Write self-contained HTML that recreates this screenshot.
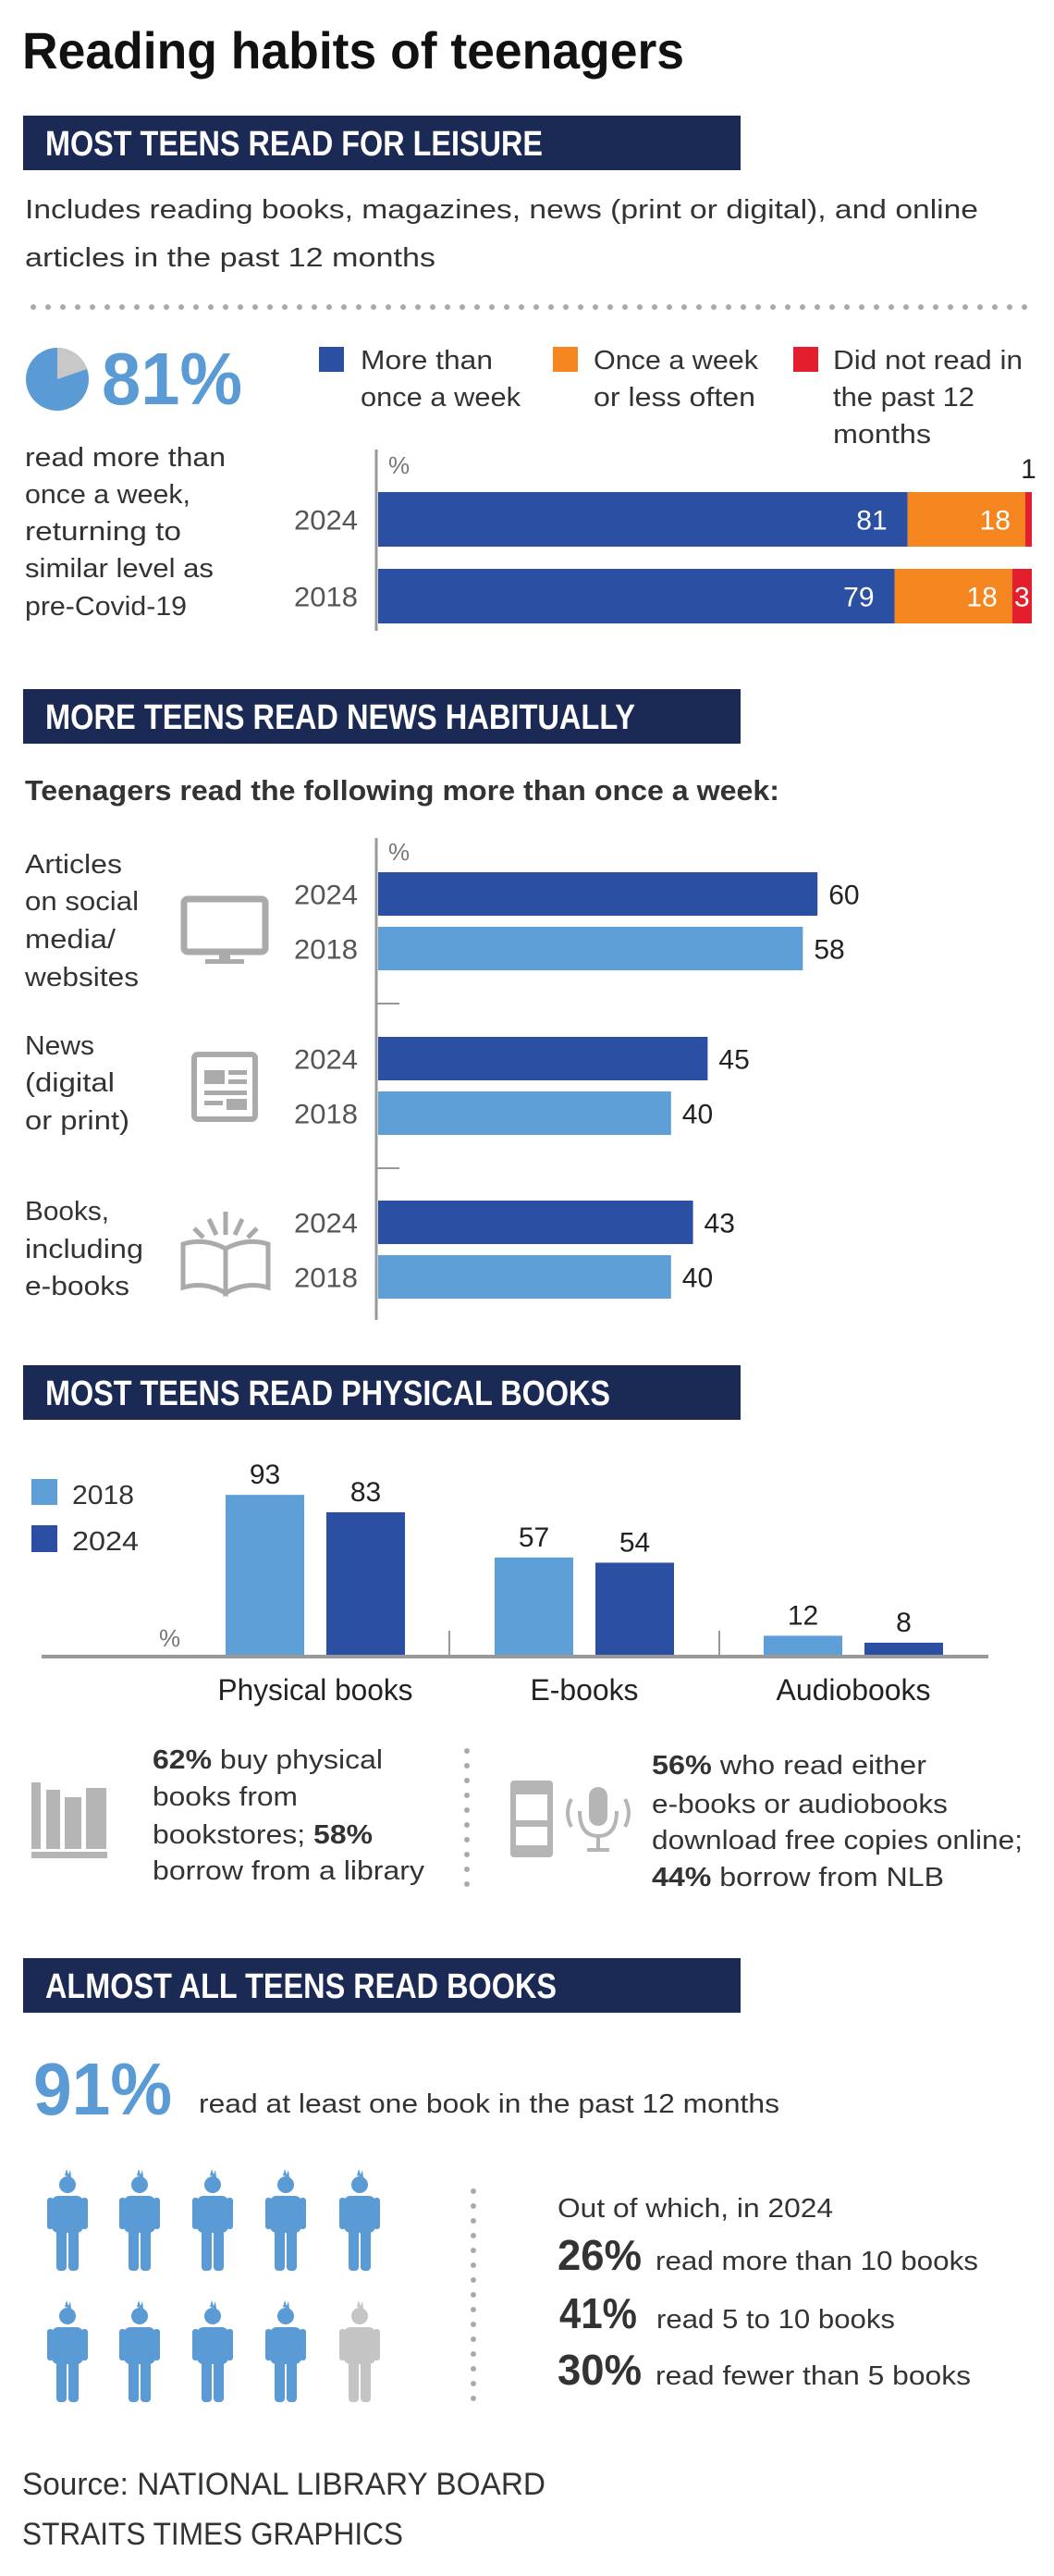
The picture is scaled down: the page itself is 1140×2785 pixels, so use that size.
<!DOCTYPE html>
<html><head><meta charset="utf-8"><style>
html,body{margin:0;padding:0;background:#fff;}
svg{display:block;}
text{font-family:"Liberation Sans Narrow","Liberation Sans",sans-serif;}
.hd{fill:#fff;font-weight:bold;font-size:38px;}
.t{fill:#333;font-size:29px;}
.yr{fill:#555;font-size:30px;}
</style></head><body>
<svg id="page" width="1140" height="2785" viewBox="0 0 1140 2785" xmlns="http://www.w3.org/2000/svg">
<rect width="1140" height="2785" fill="#fff"/>
<text x="24" y="74" font-size="56" font-weight="bold" fill="#111" textLength="716" lengthAdjust="spacingAndGlyphs">Reading habits of teenagers</text>

<!-- Section 1 -->
<rect x="25" y="125" width="776" height="59" fill="#1b2a54"/>
<text class="hd" x="49" y="168" textLength="538" lengthAdjust="spacingAndGlyphs">MOST TEENS READ FOR LEISURE</text>
<text class="t" font-size="31" x="27" y="236" textLength="1031" lengthAdjust="spacingAndGlyphs">Includes reading books, magazines, news (print or digital), and online</text>
<text class="t" font-size="31" x="27" y="288" textLength="444" lengthAdjust="spacingAndGlyphs">articles in the past 12 months</text>
<line x1="36" y1="332" x2="1110" y2="332" stroke="#aaa" stroke-width="6" stroke-linecap="round" stroke-dasharray="0 16"/>
<g>
<circle cx="62" cy="410" r="34" fill="#5b9bd5"/>
<path d="M62 410 L62 376 A34 34 0 0 1 94 399 Z" fill="#c8c8c8"/>
</g>
<text x="110" y="437" font-size="80" font-weight="bold" fill="#5b9bd5" textLength="152" lengthAdjust="spacingAndGlyphs">81%</text>
<g>
<rect x="345" y="375" width="27" height="27" fill="#2b4fa3"/>
<text class="t" x="390" y="399" font-size="30" textLength="143" lengthAdjust="spacingAndGlyphs">More than</text>
<text class="t" x="390" y="439" font-size="30" textLength="173" lengthAdjust="spacingAndGlyphs">once a week</text>
<rect x="598" y="375" width="27" height="27" fill="#f5861f"/>
<text class="t" x="642" y="399" font-size="30" textLength="178" lengthAdjust="spacingAndGlyphs">Once a week</text>
<text class="t" x="642" y="439" font-size="30" textLength="175" lengthAdjust="spacingAndGlyphs">or less often</text>
<rect x="858" y="375" width="27" height="27" fill="#e31e2d"/>
<text class="t" x="901" y="399" font-size="30" textLength="205" lengthAdjust="spacingAndGlyphs">Did not read in</text>
<text class="t" x="901" y="439" font-size="30" textLength="153" lengthAdjust="spacingAndGlyphs">the past 12</text>
<text class="t" x="901" y="479" font-size="30" textLength="106" lengthAdjust="spacingAndGlyphs">months</text>
</g>
<g>
<text class="t" x="27" y="504" font-size="30" textLength="217" lengthAdjust="spacingAndGlyphs">read more than</text>
<text class="t" x="27" y="544" font-size="30" textLength="179" lengthAdjust="spacingAndGlyphs">once a week,</text>
<text class="t" x="27" y="584" font-size="30" textLength="169" lengthAdjust="spacingAndGlyphs">returning to</text>
<text class="t" x="27" y="624" font-size="30" textLength="204" lengthAdjust="spacingAndGlyphs">similar level as</text>
<text class="t" x="27" y="665" font-size="30" textLength="175" lengthAdjust="spacingAndGlyphs">pre-Covid-19</text>
</g>
<g id="chart1"></g>

<!-- Section 2 -->
<rect x="25" y="745" width="776" height="59" fill="#1b2a54"/>
<text class="hd" x="49" y="788" textLength="638" lengthAdjust="spacingAndGlyphs">MORE TEENS READ NEWS HABITUALLY</text>
<text x="27" y="865" font-size="31" font-weight="bold" fill="#333" textLength="816" lengthAdjust="spacingAndGlyphs">Teenagers read the following more than once a week:</text>
<g>
<text class="t" x="27" y="944" font-size="30" textLength="105" lengthAdjust="spacingAndGlyphs">Articles</text>
<text class="t" x="27" y="984" font-size="30" textLength="123" lengthAdjust="spacingAndGlyphs">on social</text>
<text class="t" x="27" y="1025" font-size="30" textLength="98" lengthAdjust="spacingAndGlyphs">media/</text>
<text class="t" x="27" y="1066" font-size="30" textLength="123" lengthAdjust="spacingAndGlyphs">websites</text>
<text class="t" x="27" y="1140" font-size="30" textLength="75" lengthAdjust="spacingAndGlyphs">News</text>
<text class="t" x="27" y="1180" font-size="30" textLength="97" lengthAdjust="spacingAndGlyphs">(digital</text>
<text class="t" x="27" y="1221" font-size="30" textLength="113" lengthAdjust="spacingAndGlyphs">or print)</text>
<text class="t" x="27" y="1319" font-size="30" textLength="91" lengthAdjust="spacingAndGlyphs">Books,</text>
<text class="t" x="27" y="1360" font-size="30" textLength="128" lengthAdjust="spacingAndGlyphs">including</text>
<text class="t" x="27" y="1400" font-size="30" textLength="113" lengthAdjust="spacingAndGlyphs">e-books</text>
</g>
<g fill="none" stroke="#aaa">
<rect x="199" y="972" width="88" height="57" rx="4" stroke-width="7"/>
<rect x="237" y="1030" width="12" height="8" fill="#aaa" stroke="none"/>
<rect x="222" y="1037" width="42" height="5" fill="#aaa" stroke="none"/>
</g>
<g>
<rect x="210" y="1140" width="66" height="70" rx="4" fill="none" stroke="#aaa" stroke-width="6"/>
<rect x="221" y="1157" width="22" height="15" fill="#aaa"/>
<rect x="247" y="1157" width="20" height="5" fill="#aaa"/>
<rect x="247" y="1167" width="20" height="5" fill="#aaa"/>
<rect x="221" y="1179" width="46" height="5" fill="#aaa"/>
<rect x="221" y="1190" width="20" height="5" fill="#aaa"/>
<rect x="245" y="1188" width="22" height="12" fill="#aaa"/>
</g>
<g fill="none" stroke="#aaa" stroke-width="5">
<path d="M198 1345 L198 1392 Q222 1385 244 1398 L244 1350 Q222 1338 198 1345 Z"/>
<path d="M290 1345 L290 1392 Q266 1385 244 1398 L244 1350 Q266 1338 290 1345 Z"/>
<line x1="244" y1="1310" x2="244" y2="1335"/>
<line x1="226" y1="1318" x2="234" y2="1335"/>
<line x1="262" y1="1318" x2="254" y2="1335"/>
<line x1="210" y1="1328" x2="220" y2="1338"/>
<line x1="278" y1="1328" x2="268" y2="1338"/>
</g>
<g id="chart2"></g>

<!-- Section 3 -->
<rect x="25" y="1476" width="776" height="59" fill="#1b2a54"/>
<text class="hd" x="49" y="1519" textLength="611" lengthAdjust="spacingAndGlyphs">MOST TEENS READ PHYSICAL BOOKS</text>
<g>
<rect x="34" y="1599" width="28" height="28" fill="#5f9fd8"/>
<text class="t" x="78" y="1626" font-size="32" textLength="67" lengthAdjust="spacingAndGlyphs">2018</text>
<rect x="34" y="1649" width="28" height="29" fill="#2b4fa3"/>
<text class="t" x="78" y="1676" font-size="32" textLength="72" lengthAdjust="spacingAndGlyphs">2024</text>
</g>
<g id="chart3"></g>
<g fill="#b5b5b5">
<rect x="34" y="1927" width="10" height="72"/>
<rect x="50" y="1935" width="15" height="64"/>
<rect x="70" y="1943" width="18" height="56"/>
<rect x="93" y="1933" width="22" height="66"/>
<rect x="34" y="2002" width="82" height="7"/>
</g>
<g>
<text class="t" x="165" y="1912" font-size="30" textLength="249" lengthAdjust="spacingAndGlyphs"><tspan font-weight="bold">62%</tspan> buy physical</text>
<text class="t" x="165" y="1952" font-size="30" textLength="157" lengthAdjust="spacingAndGlyphs">books from</text>
<text class="t" x="165" y="1993" font-size="30" textLength="238" lengthAdjust="spacingAndGlyphs">bookstores; <tspan font-weight="bold">58%</tspan></text>
<text class="t" x="165" y="2032" font-size="30" textLength="294" lengthAdjust="spacingAndGlyphs">borrow from a library</text>
</g>
<line x1="505" y1="1893" x2="505" y2="2053" stroke="#aaa" stroke-width="6" stroke-linecap="round" stroke-dasharray="0 16"/>
<g fill="#b5b5b5">
<rect x="552" y="1925" width="46" height="83" rx="4"/>
<rect x="558" y="1940" width="34" height="28" fill="#fff"/>
<rect x="558" y="1975" width="34" height="20" fill="#fff"/>
<rect x="637" y="1932" width="20" height="42" rx="10"/>
<path d="M627 1958 Q627 1985 647 1985 Q667 1985 667 1958" fill="none" stroke="#b5b5b5" stroke-width="4"/>
<rect x="645" y="1985" width="4" height="14"/>
<rect x="635" y="1998" width="24" height="4"/>
<path d="M618 1945 Q610 1960 618 1975 M676 1945 Q684 1960 676 1975" fill="none" stroke="#b5b5b5" stroke-width="4"/>
</g>
<g>
<text class="t" x="705" y="1918" font-size="30" textLength="297" lengthAdjust="spacingAndGlyphs"><tspan font-weight="bold">56%</tspan> who read either</text>
<text class="t" x="705" y="1960" font-size="30" textLength="320" lengthAdjust="spacingAndGlyphs">e-books or audiobooks</text>
<text class="t" x="705" y="1999" font-size="30" textLength="401" lengthAdjust="spacingAndGlyphs">download free copies online;</text>
<text class="t" x="705" y="2039" font-size="30" textLength="316" lengthAdjust="spacingAndGlyphs"><tspan font-weight="bold">44%</tspan> borrow from NLB</text>
</g>

<!-- Section 4 -->
<rect x="25" y="2117" width="776" height="59" fill="#1b2a54"/>
<text class="hd" x="49" y="2160" textLength="553" lengthAdjust="spacingAndGlyphs">ALMOST ALL TEENS READ BOOKS</text>
<text x="36" y="2286" font-size="80" font-weight="bold" fill="#5b9bd5" textLength="150" lengthAdjust="spacingAndGlyphs">91%</text>
<text class="t" x="215" y="2284" textLength="628" lengthAdjust="spacingAndGlyphs">read at least one book in the past 12 months</text>
<g id="people"></g>
<line x1="512" y1="2369" x2="512" y2="2594" stroke="#aaa" stroke-width="6" stroke-linecap="round" stroke-dasharray="0 16"/>
<text class="t" x="603" y="2397" font-size="30" textLength="298" lengthAdjust="spacingAndGlyphs">Out of which, in 2024</text>
<g><text x="603" y="2454" font-size="46" font-weight="bold" fill="#333" textLength="91" lengthAdjust="spacingAndGlyphs">26%</text><text class="t" x="709" y="2454" font-size="31" textLength="349" lengthAdjust="spacingAndGlyphs">read more than 10 books</text></g>
<g><text x="605" y="2517" font-size="46" font-weight="bold" fill="#333" textLength="84" lengthAdjust="spacingAndGlyphs">41%</text><text class="t" x="710" y="2517" font-size="31" textLength="258" lengthAdjust="spacingAndGlyphs">read 5 to 10 books</text></g>
<g><text x="603" y="2578" font-size="46" font-weight="bold" fill="#333" textLength="91" lengthAdjust="spacingAndGlyphs">30%</text><text class="t" x="709" y="2578" font-size="31" textLength="341" lengthAdjust="spacingAndGlyphs">read fewer than 5 books</text></g>
<text x="24" y="2697" font-size="34" fill="#333" textLength="566" lengthAdjust="spacingAndGlyphs">Source: NATIONAL LIBRARY BOARD</text>
<text x="24" y="2751" font-size="34" fill="#333" textLength="412" lengthAdjust="spacingAndGlyphs">STRAITS TIMES GRAPHICS</text>
</svg>
<script>
const NS="http://www.w3.org/2000/svg";
// Chart 1 data
const c1Years=["2024","2018"];
const c1More=[81,79];
const c1Once=[18,18];
const c1None=[1,3];
// Chart 2 data
const c2Cats=["Articles on social media/websites","News (digital or print)","Books, including e-books"];
const c2V2024=[60,45,43];
const c2V2018=[58,40,40];
// Chart 3 data
const c3Cats=["Physical books","E-books","Audiobooks"];
const c3V2018=[93,57,12];
const c3V2024=[83,54,8];
// Pictogram data
const peopleTotal=10;
const peopleFilled=9;

function mk(tag,attrs,parent,txt){const e=document.createElementNS(NS,tag);for(const k in attrs)e.setAttribute(k,attrs[k]);if(txt!==undefined)e.textContent=txt;parent.appendChild(e);return e;}
const catW={"Physical books":211,"E-books":117,"Audiobooks":167};

// Chart 1
(function(){
const g=document.getElementById('chart1');
const x0=409,x=v=>x0+v*7.07;
const rowY=[532,615],h=59;
const ax=mk('line',{x1:407,y1:486,x2:407,y2:682,stroke:'#999','stroke-width':3},g);


const pc=mk('text',{x:420,y:512,'font-size':26,fill:'#777'},g,'%');


c1Years.forEach((yr,i)=>{
 const y=rowY[i];
 const yl=mk('text',{x:318,y:y+h/2+11,class:'yr',textLength:69,lengthAdjust:'spacingAndGlyphs'},g,yr);
 
 
 const a=c1More[i],b=c1Once[i],c=c1None[i];
 const r1=mk('rect',{x:x(0),y:y,width:x(a)-x(0),height:h,fill:'#2b4fa3'},g);
 
 
 const r2=mk('rect',{x:x(a),y:y,width:x(a+b)-x(a),height:h,fill:'#f5861f'},g);
 
 
 const r3=mk('rect',{x:x(a+b),y:y,width:x(a+b+c)-x(a+b),height:h,fill:'#e31e2d'},g);
 
 
 mk('text',{x:x(a)-22,y:y+h/2+11,'text-anchor':'end','font-size':30,fill:'#fff'},g,String(a));
 mk('text',{x:x(a+b)-16,y:y+h/2+11,'text-anchor':'end','font-size':30,fill:'#fff'},g,String(b));
 if(c>=3){mk('text',{x:(x(a+b)+x(a+b+c))/2,y:y+h/2+11,'text-anchor':'middle','font-size':30,fill:'#fff'},g,String(c));}
 else{mk('text',{x:(x(a+b)+x(a+b+c))/2,y:y-15,'text-anchor':'middle','font-size':30,fill:'#222'},g,String(c));}
});
})();

// Chart 2
(function(){
const g=document.getElementById('chart2');
const x0=409,x=v=>x0+v*7.92;
const groupY=[943,1121,1298],h=47,gap=59;
const ax=mk('line',{x1:407,y1:906,x2:407,y2:1427,stroke:'#999','stroke-width':3},g);


[1085,1263].forEach(ty=>mk('line',{x1:407,y1:ty,x2:432,y2:ty,stroke:'#999','stroke-width':2},g));
const pc=mk('text',{x:420,y:930,'font-size':26,fill:'#777'},g,'%');


c2Cats.forEach((cat,i)=>{
 const y=groupY[i];
 [[c2V2024[i],'#2b4fa3','2024',0],[c2V2018[i],'#5f9fd8','2018',gap]].forEach(([v,col,yr,off])=>{
  const yl=mk('text',{x:318,y:y+off+h/2+11,class:'yr',textLength:69,lengthAdjust:'spacingAndGlyphs'},g,yr);
  
  
  const r=mk('rect',{x:x(0),y:y+off,width:x(v)-x(0),height:h,fill:col},g);
  
  
  const t=mk('text',{x:x(v)+12,y:y+off+h/2+11,'font-size':30,fill:'#222'},g,String(v));
  
  
 });
});
})();

// Chart 3
(function(){
const g=document.getElementById('chart3');
const base=1791,y=v=>base-v*1.88;
const centers=[341,632,923],bw=85,pg=24;
c3Cats.forEach((cat,i)=>{
 const c=centers[i];
 const a=c3V2018[i],b=c3V2024[i];
 const r1=mk('rect',{x:c-pg/2-bw,y:y(a),width:bw,height:base-y(a),fill:'#5f9fd8'},g);
 
 
 const r2=mk('rect',{x:c+pg/2,y:y(b),width:bw,height:base-y(b),fill:'#2b4fa3'},g);
 
 
 mk('text',{x:c-pg/2-bw/2,y:y(a)-12,'text-anchor':'middle','font-size':30,fill:'#222'},g,String(a));
 mk('text',{x:c+pg/2+bw/2,y:y(b)-12,'text-anchor':'middle','font-size':30,fill:'#222'},g,String(b));
 const w=catW[cat]||150;
 const l=mk('text',{x:c-w/2,y:1838,'font-size':32,fill:'#222',textLength:w,lengthAdjust:'spacingAndGlyphs'},g,cat);
 
 
});
const ax=mk('line',{x1:45,y1:base,x2:1069,y2:base,stroke:'#999','stroke-width':4},g);


[486,778].forEach(tx=>mk('line',{x1:tx,y1:1763,x2:tx,y2:base,stroke:'#999','stroke-width':2},g));
const pc=mk('text',{x:172,y:1780,'font-size':26,fill:'#777'},g,'%');


})();

// Pictogram
(function(){
const g=document.getElementById('people');
const cols=[73,151,230,309,389],rows=[2349,2491];
for(let k=0;k<peopleTotal;k++){
 const cx=cols[k%5],ty=rows[Math.floor(k/5)];
 const col=k<peopleFilled?'#5b9bd5':'#c4c4c4';
 const p=mk('g',{fill:col,transform:'translate('+cx+','+ty+')'},g);
 
 
 mk('path',{d:'M-3 3 L-1 -4 L1 2 L3 -3 L4 5 Z'},p);
 mk('circle',{cx:0,cy:13,r:9},p);
 mk('rect',{x:-17,y:25,width:34,height:40,rx:7},p);
 mk('rect',{x:-22,y:27,width:7,height:34,rx:3},p);
 mk('rect',{x:15,y:27,width:7,height:34,rx:3},p);
 mk('rect',{x:-12,y:60,width:11,height:46,rx:4},p);
 mk('rect',{x:1,y:60,width:11,height:46,rx:4},p);
}
})();
</script>
</body></html>
